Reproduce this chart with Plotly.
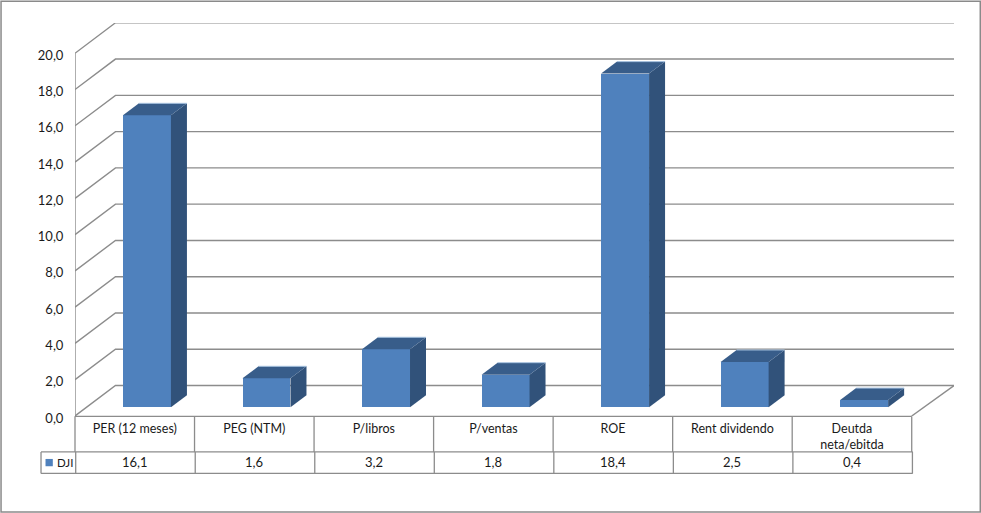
import plotly.graph_objects as go

categories = ["PER (12 meses)", "PEG (NTM)", "P/libros", "P/ventas", "ROE", "Rent dividendo", "Deutda<br>neta/ebitda"]
values = [16.1, 1.6, 3.2, 1.8, 18.4, 2.5, 0.4]
series_name = "DJI"
y_ticks = [0, 2, 4, 6, 8, 10, 12, 14, 16, 18, 20]

W, H = 981, 513
L, R, T, B = 74.5, 954.0, 22.5, 416.0
UX, UY = 119.6, 18.16          # pixels per category / per value unit
WALL_DX, WALL_DY = 40.5 / UX, 30.5 / UY
BAR_W = 48 / UX
BAR_SHIFT = 12.2 / UX
BAR_BASE = 8.7 / UY
BAR_DX, BAR_DY = 16 / UX, 12 / UY
FONT = "Lato, Open Sans, sans-serif"
FRONT, SIDE, TOP, EDGE = "#4F81BD", "#31527A", "#385D8A", "#A8C3E0"
GRID = "#8C8C8C"
X_END = (R - L) / UX


def px(x):
    return (x - L) / (R - L)


def py(y):
    return (B - y) / (B - T)


shapes = []
# wall and floor gridlines
for t in y_ticks:
    shapes.append(dict(type="path", layer="below", xref="x", yref="y",
                       path=f"M 0 {t} L {WALL_DX} {t + WALL_DY} L {X_END} {t + WALL_DY}",
                       line=dict(color=GRID, width=1.4)))
shapes.append(dict(type="path", layer="below", xref="x", yref="y",
                   path=f"M {X_END} {WALL_DY} L 7 0",
                   line=dict(color=GRID, width=1.4)))
shapes.append(dict(type="line", layer="below", xref="x", yref="y", x0=0, x1=0, y0=0, y1=20,
                   line=dict(color=GRID, width=1.4)))


def hline(x0, x1, y):
    shapes.append(dict(type="line", xref="paper", yref="paper", x0=px(x0), x1=px(x1), y0=py(y), y1=py(y),
                       line=dict(color=GRID, width=1.3)))


def vline(x, y0, y1):
    shapes.append(dict(type="line", xref="paper", yref="paper", x0=px(x), x1=px(x), y0=py(y0), y1=py(y1),
                       line=dict(color=GRID, width=1.3)))


# data table
hline(74.5, 911.7, 416.3)
hline(40.5, 912.7, 452)
hline(40.5, 912.7, 473.5)
vline(40.5, 452, 473.5)
for i in range(len(categories) + 1):
    vline(L + UX * i, 416.3, 452)
    vline(L + 0.7 + UX * i, 452, 473.5)

# legend key in the table
shapes.append(dict(type="rect", xref="paper", yref="paper", x0=px(45), x1=px(52.3), y0=py(459), y1=py(466.3),
                   fillcolor=FRONT, line=dict(width=0)))
# outer frame
shapes.append(dict(type="rect", xref="paper", yref="paper", x0=px(0.5), x1=px(980.3), y0=py(0.7), y1=py(512.2),
                   fillcolor="rgba(0,0,0,0)", line=dict(color="#8A8A8A", width=1.5)))

fig = go.Figure()
xc = [i + 0.5 + BAR_SHIFT for i in range(len(values))]

fig.add_trace(go.Bar(x=xc, y=values, base=[BAR_BASE] * len(values), width=BAR_W, name=series_name,
                     marker=dict(color=FRONT, line=dict(width=0)), showlegend=False))

for c, v in zip(xc, values):
    x0, x1 = c - BAR_W / 2, c + BAR_W / 2
    b, t = BAR_BASE, BAR_BASE + v
    fig.add_trace(go.Scatter(x=[x1, x1 + BAR_DX, x1 + BAR_DX, x1, x1], y=[b, b + BAR_DY, t + BAR_DY, t, b],
                             mode="lines", fill="toself", fillcolor=SIDE, line=dict(width=0),
                             hoverinfo="skip", showlegend=False, cliponaxis=False))
    fig.add_trace(go.Scatter(x=[x0, x1, x1 + BAR_DX, x0 + BAR_DX, x0], y=[t, t, t + BAR_DY, t + BAR_DY, t],
                             mode="lines", fill="toself", fillcolor=TOP, line=dict(width=0),
                             hoverinfo="skip", showlegend=False, cliponaxis=False))
    fig.add_trace(go.Scatter(x=[x0 + BAR_DX, x1 + BAR_DX], y=[t + BAR_DY, t + BAR_DY],
                             mode="lines", line=dict(width=1, color=EDGE),
                             hoverinfo="skip", showlegend=False, cliponaxis=False))

annotations = [dict(xref="x", yref="paper", x=i + 0.5, y=py(462.5), text=f"{v:.1f}".replace(".", ","),
                    showarrow=False, xanchor="center", yanchor="middle",
                    font=dict(family=FONT, size=13, color="#1a1a1a"))
               for i, v in enumerate(values)]
annotations.append(dict(xref="paper", yref="paper", x=px(54.5), y=py(462.5), text=series_name, showarrow=False,
                        xanchor="left", yanchor="middle", font=dict(family=FONT, size=11.5, color="#1a1a1a")))

fig.update_layout(
    width=W, height=H, autosize=False, separators=",.",
    margin=dict(l=L, r=W - R, t=T, b=H - B, pad=0),
    paper_bgcolor="white", plot_bgcolor="white", showlegend=False,
    shapes=shapes, annotations=annotations, bargap=0,
    font=dict(family=FONT, size=13, color="#1a1a1a"),
    xaxis=dict(range=[0, X_END], tickmode="array", tickvals=[i + 0.5 for i in range(len(categories))],
               ticktext=categories, showgrid=False, zeroline=False, showline=False,
               ticks="outside", ticklen=1, tickcolor="rgba(0,0,0,0)", tickangle=0,
               tickfont=dict(family=FONT, size=12.5, color="#1a1a1a")),
    yaxis=dict(range=[0, (B - T) / UY], tickmode="array", tickvals=y_ticks, tickformat=".1f",
               showgrid=False, zeroline=False, showline=False,
               ticks="outside", ticklen=8, tickcolor="rgba(0,0,0,0)", ticklabelshift=2),
)

fig.write_html("out.html", config=dict(displayModeBar=False), post_script="document.body.style.margin='0';")
